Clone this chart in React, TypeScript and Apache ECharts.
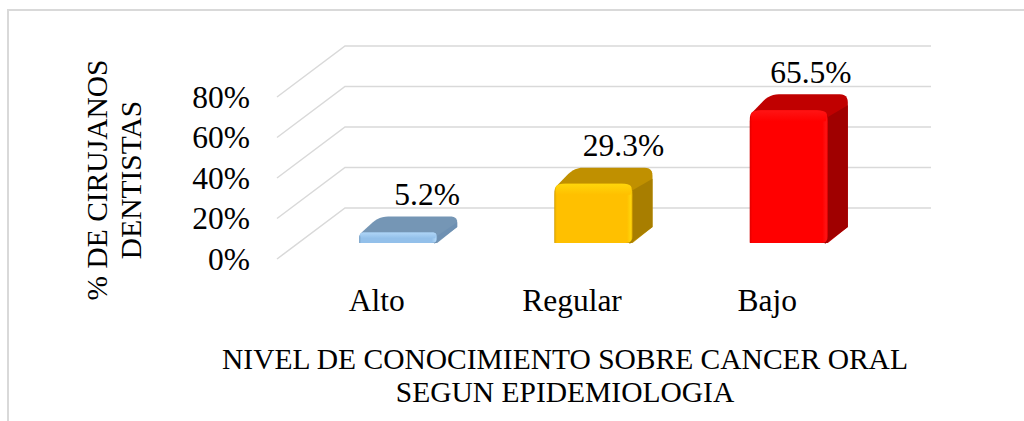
import React, { useEffect, useRef } from "react";
import * as echarts from "echarts";

const categories = ["Alto", "Regular", "Bajo"];
const values = [5.2, 29.3, 65.5];
const yTicks = [0, 20, 40, 60, 80];
const xTitle = "NIVEL DE CONOCIMIENTO SOBRE CANCER ORAL\nSEGUN EPIDEMIOLOGIA";
const yTitle = "% DE CIRUJANOS\nDENTISTAS";

const palette = [
  { front: "#93C0EA", light: "#AFD5F6", edge: "#7FA9CF", top: "#7596B5", side: "#6E90B2" },
  { front: "#FFC000", light: "#FFD60A", edge: "#E0A800", top: "#C09000", side: "#A87E00" },
  { front: "#FF0000", light: "#FF1414", edge: "#E00000", top: "#C00000", side: "#A00000" },
];
const labelShift = [9, 10, 2];

const SERIF = "Liberation Serif";
const FONT = 31.5;
const TITLE_FONT = 29.5;
const FLOOR_DX = 68;
const FLOOR_DY = 51;
const BAR_DX = 23.5;
const BAR_DY = 16;
const BAR_W = 78;
const DEPTH_X = 20;
const DEPTH_Y = 16;

type P = [number, number];

function roundPoly(points: P[], radii: number[]): P[] {
  const out: P[] = [];
  const n = points.length;
  for (let i = 0; i < n; i++) {
    const p = points[i];
    const a = points[(i + n - 1) % n];
    const b = points[(i + 1) % n];
    const r = radii[i];
    if (!r) {
      out.push(p);
      continue;
    }
    const la = Math.hypot(a[0] - p[0], a[1] - p[1]);
    const lb = Math.hypot(b[0] - p[0], b[1] - p[1]);
    const ra = Math.min(r, la / 2);
    const rb = Math.min(r, lb / 2);
    const s: P = [p[0] + ((a[0] - p[0]) * ra) / la, p[1] + ((a[1] - p[1]) * ra) / la];
    const e: P = [p[0] + ((b[0] - p[0]) * rb) / lb, p[1] + ((b[1] - p[1]) * rb) / lb];
    for (let k = 0; k <= 6; k++) {
      const t = k / 6;
      const u = 1 - t;
      out.push([
        u * u * s[0] + 2 * u * t * p[0] + t * t * e[0],
        u * u * s[1] + 2 * u * t * p[1] + t * t * e[1],
      ]);
    }
  }
  return out;
}

function renderGrid(params: any, api: any) {
  const cs = params.coordSys;
  const y = api.coord([0, api.value(0)])[1];
  return {
    type: "polyline",
    silent: true,
    shape: {
      points: [
        [cs.x, y],
        [cs.x + FLOOR_DX, y - FLOOR_DY],
        [cs.x + cs.width + FLOOR_DX, y - FLOOR_DY],
      ],
    },
    style: { stroke: "#D9D9D9", lineWidth: 1.5, fill: "none" },
  };
}

function renderBar(params: any, api: any) {
  const i = api.value(0);
  const v = api.value(1);
  const c = palette[i];
  const base = api.coord([i, 0]);
  const head = api.coord([i, v]);
  const cx = base[0] + BAR_DX;
  const x0 = cx - BAR_W / 2;
  const x1 = cx + BAR_W / 2;
  const yb = base[1] - BAR_DY;
  const yt = head[1] - BAR_DY;
  const h = yb - yt;
  const r = Math.min(11, h * 0.55);

  const silhouette = roundPoly(
    [
      [x0, yt + r * 0.4],
      [x0 + DEPTH_X, yt - DEPTH_Y],
      [x1 + DEPTH_X, yt - DEPTH_Y],
      [x1 + DEPTH_X, yb - DEPTH_Y],
      [x1, yb],
      [x0, yb],
    ],
    [4, 9, 8, 0, 0, 0],
  );
  const side = roundPoly(
    [
      [x1, yt + r * 0.6],
      [x1 + DEPTH_X, yt - DEPTH_Y + r],
      [x1 + DEPTH_X, yb - DEPTH_Y],
      [x1 - 3, yb + 1],
    ],
    [0, 0, 0, 0],
  );
  const front = roundPoly(
    [
      [x0, yt],
      [x1, yt],
      [x1, yb],
      [x0, yb],
    ],
    [r, r, Math.min(7, r), 1],
  );
  const bevel = roundPoly(
    [
      [x0, yt],
      [x1, yt],
      [x1 - 2, yt + r],
      [x0 + 2, yt + r],
    ],
    [r, r, 0, 0],
  );

  return {
    type: "group",
    children: [
      { type: "polygon", shape: { points: silhouette }, style: { fill: c.top } },
      { type: "polygon", shape: { points: side }, style: { fill: c.side } },
      {
        type: "polygon",
        shape: { points: front },
        style: {
          fill: {
            type: "linear",
            x: 0,
            y: 0,
            x2: 1,
            y2: 0,
            colorStops: [
              { offset: 0, color: c.edge },
              { offset: 0.03, color: c.front },
              { offset: 0.93, color: c.front },
              { offset: 0.98, color: c.light },
              { offset: 1, color: c.edge },
            ],
          },
        },
      },
      {
        type: "polygon",
        shape: { points: bevel },
        style: {
          fill: {
            type: "linear",
            x: 0,
            y: 0,
            x2: 0,
            y2: 1,
            colorStops: [
              { offset: 0, color: c.light },
              { offset: 1, color: c.front },
            ],
          },
        },
      },
      {
        type: "text",
        style: {
          x: cx + DEPTH_X + labelShift[i],
          y: yt - DEPTH_Y - 22,
          text: v.toFixed(1) + "%",
          fill: "#000000",
          font: `${FONT}px "${SERIF}"`,
          align: "center",
          verticalAlign: "middle",
        },
      },
    ],
  };
}

export default function App() {
  const ref = useRef<HTMLDivElement>(null);
  useEffect(() => {
    const chart = echarts.init(ref.current!, null, { renderer: "svg" });
    chart.setOption({
      animation: false,
      backgroundColor: "#FFFFFF",
      grid: { left: 277, top: 97, width: 586, height: 162 },
      xAxis: {
        type: "category",
        data: categories,
        axisLine: { show: false },
        axisTick: { show: false },
        axisLabel: {
          color: "#000",
          fontFamily: SERIF,
          fontSize: FONT,
          margin: 25,
          padding: [0, 0, 0, 4],
        },
        name: xTitle,
        nameLocation: "middle",
        nameGap: 83,
        nameTextStyle: {
          color: "#000",
          fontFamily: SERIF,
          fontSize: TITLE_FONT,
          lineHeight: 33,
          padding: [0, 10, 0, 0],
        },
      },
      yAxis: {
        type: "value",
        min: 0,
        max: 80,
        interval: 20,
        splitLine: { show: false },
        axisLine: { show: false },
        axisTick: { show: false },
        axisLabel: { color: "#000", fontFamily: SERIF, fontSize: FONT, margin: 27, formatter: "{value}%" },
        name: yTitle,
        nameLocation: "middle",
        nameRotate: 90,
        nameGap: 129,
        nameTextStyle: {
          color: "#000",
          fontFamily: SERIF,
          fontSize: TITLE_FONT,
          lineHeight: 34,
          padding: [0, 4, 0, 0],
        },
      },
      graphic: [
        {
          type: "polyline",
          shape: { points: [[8, 421], [8, 10], [1024, 10]] },
          style: { stroke: "#D9D9D9", lineWidth: 2, fill: "none" },
          silent: true,
        },
      ],
      series: [
        {
          type: "custom",
          coordinateSystem: "cartesian2d",
          renderItem: renderGrid,
          data: yTicks.map((t) => [t]),
          encode: { y: 0 },
          silent: true,
          clip: false,
          z: 1,
        },
        {
          type: "custom",
          coordinateSystem: "cartesian2d",
          renderItem: renderBar,
          data: values.map((v, i) => [i, v]),
          encode: { x: 0, y: 1 },
          silent: true,
          clip: false,
          z: 2,
        },
      ],
    });
    return () => chart.dispose();
  }, []);
  return (
    <div
      ref={ref}
      style={{ position: "absolute", left: 0, top: 0, width: 1024, height: 421 }}
    />
  );
}
